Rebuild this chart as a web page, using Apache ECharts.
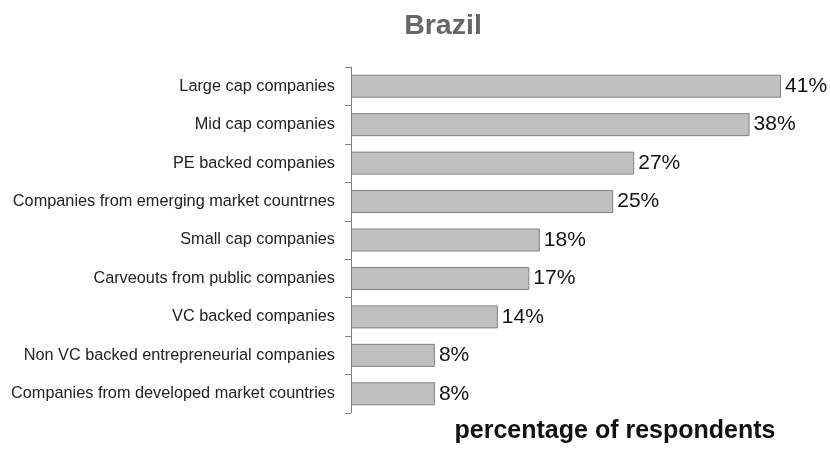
<!DOCTYPE html>
<html>
<head>
<meta charset="utf-8">
<script src="https://cdn.jsdelivr.net/npm/echarts@6/dist/echarts.min.js"></script>
<style>
  html, body { margin: 0; padding: 0; background: #fff; }
  #chart { width: 830px; height: 451px; }
</style>
</head>
<body>
<div id="chart"></div>
<script>
const categories = [
  'Large cap companies',
  'Mid cap companies',
  'PE backed companies',
  'Companies from emerging market countrnes',
  'Small cap companies',
  'Carveouts from public companies',
  'VC backed companies',
  'Non VC backed entrepreneurial companies',
  'Companies from developed market countries',
];
const values = [41, 38, 27, 25, 18, 17, 14, 8, 8];

const myChart = echarts.init(document.getElementById('chart'));
const option = {
  animation: false,
  textStyle: { fontFamily: 'Liberation Sans, Arial, sans-serif' },
  title: [
    {
      text: 'Brazil',
      left: 438,
      top: 7,
      textAlign: 'center',
      textStyle: { fontSize: 28.5, fontWeight: 'bold', color: '#666' },
    },
    {
      text: 'percentage of respondents',
      left: 610,
      top: 414,
      textAlign: 'center',
      textStyle: { fontSize: 25, fontWeight: 'bold', color: '#111' },
    },
  ],
  grid: { left: 351, right: 7, top: 67, bottom: 38, containLabel: false },
  xAxis: {
    type: 'value',
    min: 0,
    max: 45,
    show: false,
  },
  yAxis: {
    type: 'category',
    data: categories,
    inverse: true,
    axisLine: { show: true, lineStyle: { color: '#808080', width: 1 } },
    axisTick: { show: true, length: 6, lineStyle: { color: '#808080' } },
    axisLabel: { fontSize: 16.3, color: '#222', margin: 16 },
  },
  series: [
    {
      type: 'bar',
      data: values,
      barWidth: 23,
      itemStyle: { color: '#c0c0c0', borderColor: '#808080', borderWidth: 1 },
      label: {
        show: true,
        position: 'right',
        distance: 4,
        formatter: '{c}%',
        fontSize: 21,
        color: '#111',
      },
    },
  ],
};
myChart.setOption(option);
</script>
</body>
</html>
